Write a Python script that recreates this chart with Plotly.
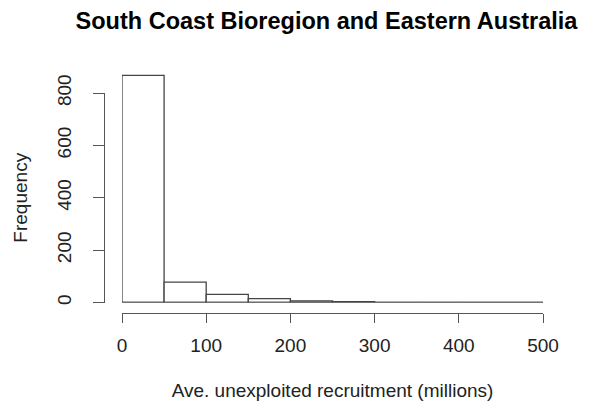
import plotly.graph_objects as go

bin_edges = [0, 50, 100, 150, 200, 250, 300, 350, 400, 450, 500]
counts = [867, 78, 31, 15, 6, 3, 0, 0, 0, 0]
x_ticks = [0, 100, 200, 300, 400, 500]
y_ticks = [0, 200, 400, 600, 800]
title = "South Coast Bioregion and Eastern Australia"
x_title = "Ave. unexploited recruitment (millions)"
y_title = "Frequency"

W, H = 594, 405
ML, MR, MT, MB = 40, 20, 40, 20
pw = W - ML - MR
ph = H - MT - MB

def fx(p):
    return (p - ML) / pw

def fy(p):
    return (H - MB - p) / ph

x0_px, x1_px = 122, 543
y0_px, y800_px = 302.5, 93
pxu = (y0_px - y800_px) / 800.0
ytop = (y0_px - MT) / pxu

centers = [(bin_edges[i] + bin_edges[i + 1]) / 2 for i in range(len(counts))]
widths = [bin_edges[i + 1] - bin_edges[i] for i in range(len(counts))]

font = "Liberation Sans, Arial, sans-serif"
axcol = "#555555"
txtcol = "#222222"
fs = 19

fig = go.Figure()
fig.add_trace(go.Bar(x=centers, y=counts, width=widths,
                     marker=dict(color="white", line=dict(color="#444444", width=1.3)),
                     showlegend=False, hoverinfo="x+y"))
fig.add_trace(go.Scatter(x=[bin_edges[0], bin_edges[-1]], y=[0, 0], mode="lines",
                         line=dict(color="#444444", width=1.3), showlegend=False,
                         hoverinfo="skip"))
fig.add_trace(go.Scatter(x=[bin_edges[0]], y=[0], xaxis="x2", yaxis="y2", mode="markers",
                         marker=dict(opacity=0), showlegend=False, hoverinfo="skip"))

fig.update_layout(
    width=W, height=H,
    margin=dict(l=ML, r=MR, t=MT, b=MB, autoexpand=False),
    paper_bgcolor="white", plot_bgcolor="rgba(0,0,0,0)",
    font=dict(family=font, color=txtcol, size=fs),
    title=dict(text="<b>" + title + "</b>", x=(x0_px + x1_px) / 2 / W - 6 / W,
               xanchor="center", y=1 - 21 / H, yanchor="middle",
               font=dict(size=23.5, color="black", family=font)),
    xaxis=dict(domain=[fx(x0_px), fx(x1_px)], range=[bin_edges[0], bin_edges[-1]],
               visible=False, fixedrange=True, automargin=False),
    yaxis=dict(domain=[fy(y0_px), 1], range=[0, ytop], visible=False, fixedrange=True,
               automargin=False),
    xaxis2=dict(domain=[fx(x0_px), fx(x1_px)], range=[bin_edges[0], bin_edges[-1]],
                anchor="free", position=fy(313), automargin=False,
                showline=True, linecolor=axcol, linewidth=1.3,
                ticks="outside", ticklen=9, tickwidth=1.3, tickcolor=axcol,
                ticklabelstandoff=6,
                tickvals=x_ticks, ticktext=[str(v) for v in x_ticks],
                showgrid=False, zeroline=False, fixedrange=True,
                tickfont=dict(size=fs, color=txtcol),
                title=dict(text=x_title, font=dict(size=fs, color=txtcol), standoff=28)),
    yaxis2=dict(domain=[fy(y0_px), fy(y800_px)], range=[0, 800],
                anchor="free", position=fx(104), automargin=False,
                showline=True, linecolor=axcol, linewidth=1.3,
                ticks="outside", ticklen=11, tickwidth=1.3, tickcolor=axcol,
                ticklabelstandoff=14,
                tickvals=y_ticks, ticktext=[str(v) for v in y_ticks],
                tickangle=-90, showgrid=False, zeroline=False, fixedrange=True,
                tickfont=dict(size=fs, color=txtcol),
                title=dict(text=y_title, font=dict(size=fs, color=txtcol), standoff=20)),
)

fig.write_html("out.html", config={"displayModeBar": False},
               post_script="document.body.style.margin='0';")
